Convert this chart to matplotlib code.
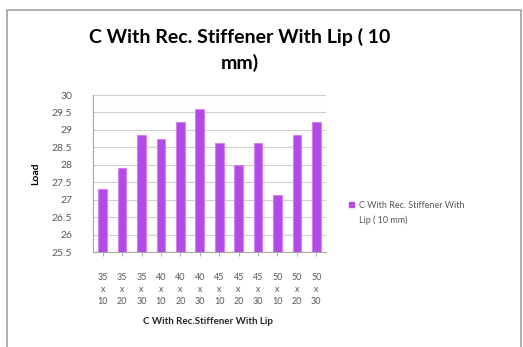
import matplotlib.pyplot as plt
import numpy as np
from matplotlib.patches import Rectangle

# Load for each section size (depth x width x lip)
depths = ['35', '35', '35', '40', '40', '40', '45', '45', '45', '50', '50', '50']
widths = ['10', '20', '30', '10', '20', '30', '10', '20', '30', '10', '20', '30']
loads = [27.3, 27.9, 28.85, 28.75, 29.22, 29.6, 28.62, 27.98, 28.62, 27.12, 28.85, 29.22]
series_name = 'C With Rec. Stiffener With\nLip ( 10 mm)'

plt.rcParams['font.family'] = ['Lato', 'DejaVu Sans']

fig = plt.figure(figsize=(5.23, 3.47), dpi=100)
ax = fig.add_axes([93 / 523, 1 - 252 / 347, 233 / 523, 157 / 347])

x = np.arange(len(loads))
ax.bar(x, loads, width=0.45, bottom=0, color='#b24be6', edgecolor='#d282f2',
       linewidth=0.8, zorder=3)

ax.set_ylim(25.5, 30)
ax.set_xlim(-0.5, len(loads) - 0.5)
ax.set_yticks(np.arange(25.5, 30.01, 0.5))
ax.set_yticklabels(['%g' % v for v in np.arange(25.5, 30.01, 0.5)])
ax.yaxis.grid(True, color='#cfcfcf', linewidth=0.8, zorder=0)

ax.set_xticks(x)
ax.set_xticklabels(['%s\nx\n%s' % (d, w) for d, w in zip(depths, widths)],
                   linespacing=1.45)
ax.tick_params(axis='x', length=3, color='#b0b0b0', labelsize=6.5,
               labelcolor='#595959', pad=12)
ax.tick_params(axis='y', length=0, labelsize=7.5, labelcolor='#595959', pad=15)

for side in ['top', 'right']:
    ax.spines[side].set_visible(False)
for side in ['left', 'bottom']:
    ax.spines[side].set_color('#a8a8a8')
    ax.spines[side].set_linewidth(0.8)

ax.set_ylabel('Load', fontsize=7.5, fontweight='bold', labelpad=8)
fig.text(208 / 523, 1 - 322 / 347, 'C With Rec.Stiffener With Lip', fontsize=7,
         fontweight='bold', ha='center', va='center', color='#262626')

fig.text(240 / 523, 1 - 50 / 347, 'C With Rec. Stiffener With Lip ( 10\nmm)',
         fontsize=14, fontweight='bold', ha='center', va='center',
         linespacing=1.5)

# legend entry
fig.add_artist(Rectangle((349 / 523, 1 - 207 / 347), 5 / 523, 5 / 347,
                         transform=fig.transFigure, color='#b24be6'))
fig.text(359 / 523, 1 - 213 / 347, series_name, fontsize=6.5, color='#595959',
         ha='left', va='center', linespacing=1.6)

# chart area border
fig.add_artist(Rectangle((7 / 523, -0.05), 514 / 523, 1.05 - 10 / 347,
                         transform=fig.transFigure, fill=False,
                         edgecolor='#a0a0a0', linewidth=1.2))

fig.savefig('out.png', dpi=100)
